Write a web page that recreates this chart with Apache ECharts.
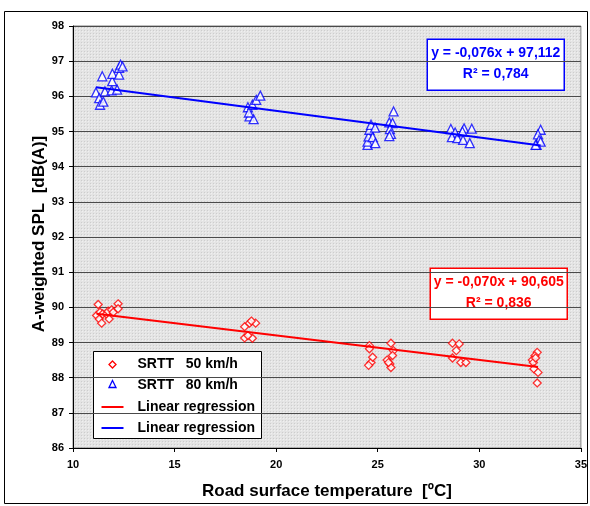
<!DOCTYPE html>
<html>
<head>
<meta charset="utf-8">
<script src="https://cdn.jsdelivr.net/npm/echarts@6/dist/echarts.min.js"></script>
<style>
  html, body { margin: 0; padding: 0; background: #fff; }
  #chart { width: 590px; height: 506px; }
</style>
</head>
<body>
<div id="chart"></div>
<script>
// measured points, SRTT tyre at 50 km/h  [road temp ºC, SPL dB(A)]
const srtt50 = [
  [11.24, 90.08], [11.16, 89.77], [11.33, 89.86], [11.29, 89.67], [11.41, 89.55], [11.46, 89.81],
  [11.65, 89.81], [11.78, 89.67], [11.73, 89.89], [11.90, 89.93], [11.98, 89.86], [12.22, 90.10],
  [12.22, 89.96],
  [18.45, 89.45], [18.69, 89.55], [18.99, 89.55], [18.78, 89.61], [18.45, 89.13], [18.83, 89.12],
  [18.61, 89.20],
  [24.59, 88.91], [24.59, 88.82], [24.67, 88.43], [24.55, 88.35], [24.75, 88.58], [25.65, 88.98],
  [25.77, 88.77], [25.73, 88.63], [25.46, 88.50], [25.60, 88.39], [25.65, 88.29], [25.53, 88.43],
  [28.68, 88.98], [29.01, 88.96], [28.87, 88.77], [28.68, 88.56], [29.09, 88.43], [29.34, 88.43],
  [32.85, 88.72], [32.74, 88.62], [32.61, 88.50], [32.66, 88.43], [32.77, 88.56], [32.69, 88.25],
  [32.89, 88.15], [32.85, 87.85]
];

// SRTT tyre at 80 km/h
const srtt80 = [
  [11.44, 96.57], [11.13, 96.11], [11.29, 95.95], [11.33, 95.76], [11.49, 95.85], [11.57, 96.14],
  [11.90, 96.17], [12.17, 96.19], [11.93, 96.43], [11.94, 96.64], [12.27, 96.62], [12.27, 96.81],
  [12.34, 96.90], [12.44, 96.85],
  [18.61, 95.69], [18.69, 95.43], [18.89, 95.35], [18.83, 95.76], [19.02, 95.90], [19.22, 96.02],
  [18.66, 95.54],
  [24.50, 94.62], [24.50, 94.71], [24.55, 94.86], [24.59, 95.05], [24.67, 95.19], [24.87, 95.11],
  [24.75, 94.84], [24.88, 94.67], [25.57, 95.26], [25.73, 95.24], [25.60, 95.07], [25.65, 94.93],
  [25.57, 94.87], [25.78, 95.57],
  [28.60, 95.07], [28.81, 94.97], [28.65, 94.84], [28.92, 94.81], [29.20, 94.76], [29.25, 95.09],
  [29.17, 95.00], [29.63, 95.08], [29.53, 94.67],
  [33.02, 95.05], [32.89, 94.92], [32.94, 94.76], [32.82, 94.62], [33.02, 94.71], [32.77, 94.62]
];

// end points of the trend lines as drawn
const trend50 = [[11.16, 89.82], [32.89, 88.30]];
const trend80 = [[11.13, 96.26], [33.02, 94.60]];

const eq50 = ['y = -0,070x + 90,605', 'R² = 0,836'];
const eq80 = ['y = -0,076x + 97,112', 'R² = 0,784'];
const legendNames = ['SRTT   50 km/h', 'SRTT   80 km/h', 'Linear regression', 'Linear regression'];

const FONT = 'Arial, Liberation Sans, sans-serif';
const RED = '#ff0000';
const BLUE = '#0000ff';
const diamond = 'path://M0,-1 L1,0 L0,1 L-1,0 Z';

// dotted grey fill like the excel plot area
const pat = document.createElement('canvas');
pat.width = 3; pat.height = 3;
const pc = pat.getContext('2d');
pc.fillStyle = '#e4e4e4';
pc.fillRect(0, 0, 3, 3);
pc.fillStyle = '#cdcdcd';
pc.fillRect(0, 0, 1, 1);
pc.fillStyle = '#f0f0f0';
pc.fillRect(1, 1, 1, 1);

function txt(x, y, text, color, align) {
  return {
    type: 'text', x: x, y: y,
    style: {
      text: text, fill: color, fontFamily: FONT, fontSize: 14, fontWeight: 'bold',
      textAlign: align, textVerticalAlign: 'middle'
    }
  };
}

function eqBox(x, y, color, lines) {
  return {
    type: 'group',
    left: x, top: y,
    children: [
      { type: 'rect', shape: { x: 0, y: 0, width: 137, height: 51 },
        style: { fill: '#fff', stroke: color, lineWidth: 1.5 } },
      txt(68.5, 14, lines[0], color, 'center'),
      txt(68.5, 35, lines[1], color, 'center')
    ]
  };
}

// legend drawn by hand so the icons keep their excel look
const legendBox = {
  type: 'group',
  left: 93, top: 351,
  z: 10,
  children: [
    { type: 'rect', shape: { x: 0, y: 0, width: 168, height: 87 },
      style: { fill: '#fff', stroke: '#000', lineWidth: 1 } },
    { type: 'polygon', shape: { points: [[19, 9.5], [22.5, 13], [19, 16.5], [15.5, 13]] },
      style: { fill: '#fff', stroke: RED, lineWidth: 1.3 } },
    { type: 'polygon', shape: { points: [[19, 29], [22.5, 36], [15.5, 36]] },
      style: { fill: '#fff', stroke: BLUE, lineWidth: 1.3 } },
    { type: 'line', shape: { x1: 8, y1: 55.5, x2: 30, y2: 55.5 },
      style: { stroke: RED, lineWidth: 2 } },
    { type: 'line', shape: { x1: 8, y1: 76.5, x2: 30, y2: 76.5 },
      style: { stroke: BLUE, lineWidth: 2 } },
    txt(44, 13, legendNames[0], '#000', 'left'),
    txt(44, 33.5, legendNames[1], '#000', 'left'),
    txt(44, 55.5, legendNames[2], '#000', 'left'),
    txt(44, 76.5, legendNames[3], '#000', 'left')
  ]
};

const chart = echarts.init(document.getElementById('chart'));
chart.setOption({
  animation: false,
  textStyle: { fontFamily: FONT },
  grid: {
    left: 73, top: 26, right: 9, bottom: 58,
    show: true,
    backgroundColor: { image: pat, repeat: 'repeat' },
    borderColor: '#808080',
    borderWidth: 1
  },
  xAxis: {
    type: 'value',
    min: 10, max: 35, interval: 5,
    name: 'Road surface temperature  [ºC]',
    nameLocation: 'middle',
    nameGap: 35,
    nameTextStyle: { fontSize: 17, fontWeight: 'bold', color: '#000' },
    axisLine: { onZero: false, lineStyle: { color: '#000', width: 1 } },
    axisTick: { show: true, length: 4, lineStyle: { color: '#000' } },
    axisLabel: { fontSize: 11, fontWeight: 'bold', color: '#000', margin: 11 },
    splitLine: { show: false }
  },
  yAxis: {
    type: 'value',
    min: 86, max: 98, interval: 1,
    name: 'A-weighted SPL  [dB(A)]',
    nameLocation: 'middle',
    nameGap: 25,
    nameMoveOverlap: false,
    nameTextStyle: { fontSize: 17, fontWeight: 'bold', color: '#000', padding: [0, 0, 0, 6] },
    axisLine: { show: true, lineStyle: { color: '#000', width: 1 } },
    axisTick: { show: true, length: 4, lineStyle: { color: '#000' } },
    axisLabel: { fontSize: 11, fontWeight: 'bold', color: '#000', margin: 9 },
    splitLine: { show: true, lineStyle: { color: '#4a4a4a', width: 1 } }
  },
  series: [
    {
      name: legendNames[0],
      type: 'scatter',
      symbol: diamond,
      symbolSize: 8,
      itemStyle: { color: '#fff', borderColor: RED, borderWidth: 1.3 },
      data: srtt50,
      z: 3
    },
    {
      name: legendNames[1],
      type: 'scatter',
      symbol: 'triangle',
      symbolSize: 9,
      itemStyle: { color: '#fff', borderColor: BLUE, borderWidth: 1.3 },
      data: srtt80,
      z: 3
    },
    {
      name: 'trend50',
      type: 'line',
      symbol: 'none',
      data: trend50,
      lineStyle: { color: RED, width: 2 },
      z: 4
    },
    {
      name: 'trend80',
      type: 'line',
      symbol: 'none',
      data: trend80,
      lineStyle: { color: BLUE, width: 2 },
      z: 4
    }
  ],
  graphic: [
    { type: 'rect', shape: { x: 4.5, y: 11.5, width: 583, height: 492 },
      style: { fill: 'none', stroke: '#000', lineWidth: 1 }, silent: true, z: -1 },
    eqBox(426.5, 38.5, BLUE, eq80),
    eqBox(429.5, 267.5, RED, eq50),
    legendBox
  ]
});
</script>
</body>
</html>
